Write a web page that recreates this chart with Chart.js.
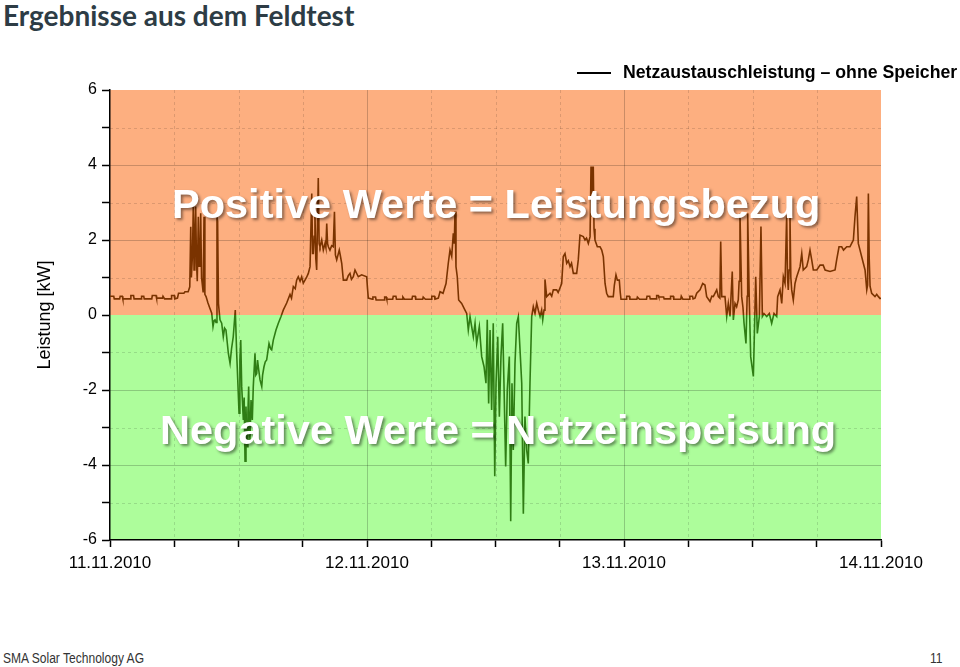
<!DOCTYPE html>
<html>
<head>
<meta charset="utf-8">
<title>Ergebnisse aus dem Feldtest</title>
<script src="https://cdn.jsdelivr.net/npm/chart.js@4.4.1/dist/chart.umd.min.js"></script>
<style>
    body { margin: 0; width: 960px; height: 667px; background: #fff; position: relative; overflow: hidden; font-family: "Liberation Sans", Arial, sans-serif; }
    #title { position: absolute; left: 3px; top: 0; font-family: Lato, "Open Sans", sans-serif; font-weight: 700; font-size: 28px; line-height: 30px; color: #2d3c45; white-space: nowrap; }
    #wrap { position: absolute; left: 0; top: 0; width: 960px; height: 600px; }
    #legend { position: absolute; left: 577px; top: 62px; font-weight: bold; font-size: 17.7px; line-height: 20px; white-space: nowrap; color: #000; }
    #legend .line { display: inline-block; width: 34px; height: 2px; background: #000; vertical-align: middle; margin-right: 12px; }
    .big { position: absolute; color: #fff; font-weight: bold; font-size: 41.5px; line-height: 41px; white-space: nowrap; text-shadow: 2px 2px 3px rgba(0, 0, 0, 0.45); }
    .foot { position: absolute; top: 650px; font-size: 14px; line-height: 16px; color: #333; transform: scaleX(0.86); transform-origin: left top; white-space: nowrap; }
</style>
</head>
<body>
<div id="title">Ergebnisse aus dem Feldtest</div>
<div id="wrap"><canvas id="chart"></canvas></div>
<div id="legend"><span class="line"></span>Netzaustauschleistung – ohne Speicher</div>
<div class="big" style="left:172px; top:183px;">Positive Werte = Leistungsbezug</div>
<div class="big" style="left:160px; top:409px;">Negative Werte = Netzeinspeisung</div>
<div class="foot" style="left:3px;">SMA Solar Technology AG</div>
<div class="foot" style="left:930px;">11</div>

<script>
// time in hours since 11.11.2010 00:00
const hours = [
    0, 0.35, 0.4, 0.9, 0.95, 1.15, 1.2, 1.9, 1.95, 2.2,
    2.25, 2.9, 2.95, 3.15, 3.2, 3.9, 3.95, 4.3, 4.35, 4.9,
    4.95, 5.1, 5.7, 5.75, 6.0, 6.05, 6.3, 6.4, 6.9, 7.0,
    7.3, 7.45, 7.54, 7.6, 7.7, 7.78, 7.85, 7.92, 8.0, 8.08,
    8.15, 8.25, 8.32, 8.4, 8.47, 8.55, 8.7, 8.78, 8.86, 8.97,
    9.15, 9.3, 9.5, 9.62, 9.72, 9.81, 9.9, 9.99, 10.05, 10.13,
    10.27, 10.43, 10.58, 10.7, 10.83, 11.05, 11.21, 11.35, 11.51, 11.7,
    11.83, 11.93, 12.05, 12.13, 12.21, 12.3, 12.45, 12.53, 12.61, 12.7,
    12.76, 12.82, 12.88, 12.95, 13.01, 13.07, 13.17, 13.29, 13.38, 13.54,
    13.62, 13.7, 13.78, 13.85, 14.01, 14.17, 14.25, 14.38, 14.5, 14.63,
    14.85, 15.0, 15.1, 15.25, 15.5, 15.72, 15.97, 16.18, 16.5, 16.81,
    16.95, 17.12, 17.3, 17.43, 17.58, 17.75, 17.9, 18.05, 18.21, 18.35,
    18.52, 18.68, 18.84, 18.92, 18.99, 19.07, 19.14, 19.22, 19.3, 19.45,
    19.53, 19.61, 19.77, 19.92, 20.08, 20.16, 20.24, 20.32, 20.39, 20.54,
    20.7, 20.85, 20.96, 21.05, 21.17, 21.41, 21.5, 21.64, 21.79, 22.1,
    22.25, 22.41, 22.55, 22.72, 22.88, 23.05, 23.19, 23.5, 23.97, 24.05,
    24.12, 24.5, 24.55, 24.8, 24.85, 25.6, 25.65, 25.8, 25.85, 26.4,
    26.45, 26.7, 26.75, 27.3, 27.35, 27.5, 28.2, 28.25, 28.5, 28.55,
    29.2, 29.25, 29.45, 30.0, 30.05, 30.3, 30.35, 30.66, 30.82, 31.1,
    31.38, 31.59, 31.75, 31.91, 32.06, 32.15, 32.22, 32.31, 32.43, 32.56,
    32.84, 33.15, 33.31, 33.46, 33.62, 33.93, 34.09, 34.24, 34.49, 34.71,
    34.93, 35.11, 35.23, 35.36, 35.49, 35.64, 35.79, 35.93, 36.05, 36.21,
    36.36, 36.51, 36.67, 36.79, 36.95, 37.1, 37.29, 37.42, 37.54, 37.66,
    37.82, 37.98, 38.13, 38.29, 38.45, 38.6, 38.75, 38.91, 39.06, 39.22,
    39.38, 39.53, 39.69, 39.85, 40.0, 40.16, 40.31, 40.41, 40.53, 40.62,
    40.78, 41.09, 41.25, 41.4, 41.71, 41.85, 42.02, 42.18, 42.33, 42.49,
    42.65, 42.8, 42.96, 43.1, 43.27, 43.58, 43.73, 43.89, 44.2, 44.36,
    44.5, 44.67, 44.83, 44.92, 45.0, 45.04, 45.13, 45.2, 45.29, 45.51,
    45.76, 45.92, 46.07, 46.23, 46.38, 46.53, 47.0, 47.1, 47.25, 47.38,
    47.56, 47.65, 47.72, 48.2, 48.25, 48.5, 48.55, 49.2, 49.25, 49.45,
    50.1, 50.15, 50.4, 50.45, 51.0, 51.05, 51.2, 51.25, 51.7, 51.75,
    52.3, 52.35, 52.6, 52.65, 53.3, 53.35, 53.5, 54.1, 54.15, 54.4,
    54.45, 54.63, 54.79, 55.1, 55.35, 55.56, 55.72, 56.03, 56.2, 56.34,
    56.66, 56.81, 56.95, 57.03, 57.13, 57.43, 57.59, 57.74, 57.9, 58.11,
    58.21, 58.37, 58.52, 58.67, 58.75, 58.83, 58.99, 59.11, 59.21, 59.39,
    59.5, 59.55, 59.7, 59.83, 60.08, 60.17, 60.3, 60.45, 60.64, 60.79,
    60.92, 61.07, 61.33, 61.57, 61.79, 62.01, 62.26, 62.35, 62.57, 62.73,
    62.88, 63.04, 63.19, 63.27, 63.34, 63.42, 63.5, 63.58, 63.66, 63.81,
    63.97, 64.13, 64.44, 64.6, 64.74, 65.06, 65.21, 65.37, 65.53, 65.68,
    66.0, 66.31, 66.6, 66.78, 67.24, 67.71, 67.86, 68.08, 68.33, 68.5,
    68.8, 69.1, 69.26, 69.42, 69.57, 69.73, 69.88, 70.04, 70.35, 70.51,
    70.67, 70.75, 70.82, 70.9, 70.98, 71.13, 71.44, 71.6, 71.76, 71.91,
    72
];

// Netzaustauschleistung in kW
const kw = [
    0.50, 0.50, 0.43, 0.43, 0.50, 0.50, 0.43, 0.43, 0.52, 0.52,
    0.43, 0.43, 0.50, 0.50, 0.43, 0.43, 0.52, 0.52, 0.45, 0.45,
    0.50, 0.43, 0.43, 0.52, 0.52, 0.43, 0.45, 0.58, 0.58, 0.62,
    0.62, 0.75, 2.35, 1.0, 1.6, 2.93, 1.2, 2.1, 2.89, 1.4,
    0.9, 2.62, 1.3, 1.5, 2.71, 1.0, 0.6, 2.62, 0.55, 0.49,
    0.32, 0.2, 0.05, -0.31, -0.15, -0.13, -0.2, 2.62, 2.5, 0.3,
    -0.13, -0.22, -0.58, -0.35, -0.4, -1.02, -1.29, -0.9, -0.58, 0.13,
    -1.02, -1.73, -2.62, -1.2, -0.67, -1.91, -2.8, -2.2, -3.9, -2.44,
    -3.2, -3.51, -2.6, -1.91, -3.0, -3.33, -2.27, -2.8, -1.91, -1.02,
    -1.6, -1.56, -1.2, -1.38, -1.73, -1.91, -1.6, -1.38, -1.25, -1.2,
    -0.76, -0.9, -0.93, -0.67, -0.4, -0.22, -0.04, 0.13, 0.32, 0.55,
    0.45, 0.76, 0.7, 0.93, 1.02, 0.9, 1.02, 0.85, 0.93, 1.0,
    1.11, 1.29, 3.24, 1.64, 1.64, 2.1, 2.71, 1.5, 1.2, 3.65,
    1.9, 1.82, 2.0, 1.73, 1.91, 1.8, 2.44, 1.9, 1.82, 1.73,
    1.85, 1.82, 2.75, 1.6, 1.47, 1.73, 1.6, 1.38, 0.93, 0.93,
    1.05, 1.11, 0.95, 1.02, 1.2, 1.1, 1.02, 1.07, 1.02, 0.7,
    0.45, 0.42, 0.48, 0.48, 0.40, 0.40, 0.48, 0.48, 0.42, 0.42,
    0.50, 0.50, 0.42, 0.42, 0.48, 0.42, 0.42, 0.50, 0.50, 0.42,
    0.42, 0.48, 0.42, 0.42, 0.50, 0.50, 0.42, 0.45, 0.62, 0.58,
    0.84, 1.38, 1.73, 1.56, 2.18, 1.9, 2.76, 1.29, 1.02, 0.4,
    0.31, 0.13, 0.04, -0.4, -0.04, -0.58, -0.22, -0.76, -0.31, -1.11,
    -1.38, -1.82, -0.13, -2.36, -0.4, -2.53, -0.22, -4.3, -1.82, -0.58,
    -2.71, -1.11, -0.22, -1.82, -4.04, -2.0, -1.11, -5.5, -1.82, -3.6,
    -1.29, -0.22, -0.04, -0.93, -1.82, -5.3, -2.71, -3.6, -3.96, -1.82,
    -0.04, 0.22, 0.04, 0.31, 0.13, -0.04, 0.13, -0.13, 0.13, 0.95,
    0.49, 0.58, 0.5, 0.67, 0.67, 0.6, 0.72, 0.84, 1.56, 1.64,
    1.38, 1.45, 1.29, 1.38, 1.11, 1.11, 1.47, 2.13, 2.09, 2.0,
    2.05, 1.91, 2.09, 3.96, 2.7, 2.62, 3.96, 2.3, 2.0, 1.82,
    1.82, 1.73, 1.56, 0.84, 0.58, 0.49, 0.49, 0.8, 1.07, 0.93,
    0.93, 0.6, 0.42, 0.42, 0.50, 0.50, 0.42, 0.42, 0.48, 0.42,
    0.42, 0.50, 0.50, 0.43, 0.43, 0.52, 0.52, 0.48, 0.48, 0.43,
    0.43, 0.50, 0.50, 0.42, 0.42, 0.50, 0.42, 0.42, 0.50, 0.50,
    0.43, 0.45, 0.58, 0.67, 0.84, 0.8, 0.49, 0.36, 0.5, 0.49,
    0.67, 0.49, 0.45, 1.96, 0.49, 0.49, -0.04, 0.31, -0.04, 1.16,
    -0.13, 0.31, 0.22, 0.4, 0.9, 2.71, 0.49, 0.2, -0.22, -0.76,
    0.5, 2.71, 0.4, -1.11, -1.64, -0.58, 1.02, -0.49, -0.04, 2.36,
    -0.04, 0.04, -0.04, 0.04, -0.22, 0.04, -0.04, 0.49, 0.67, 0.31,
    1.02, 0.84, 2.67, 1.0, 0.67, 1.2, 2.67, 1.0, 0.67, 0.4,
    0.84, 1.02, 1.29, 1.64, 1.2, 1.29, 1.47, 1.73, 1.47, 1.2,
    1.2, 1.33, 1.33, 1.2, 1.16, 1.2, 1.47, 1.82, 1.82, 1.73,
    1.82, 1.82, 1.91, 2.0, 2.62, 3.16, 1.91, 1.73, 1.38, 1.2,
    0.67, 0.8, 3.24, 1.5, 0.76, 0.58, 0.49, 0.55, 0.49, 0.44,
    0.45
];

const dayLabels = ['11.11.2010', '12.11.2010', '13.11.2010', '14.11.2010'];
const yMin = -6;
const yMax = 6;

const lineUp = '#7a3300';
const lineDown = '#2f7d14';
const plusFill = '#fdaf80';
const minusFill = '#adfd9b';
const gridMajor = 'rgba(0, 0, 0, 0.2)';
const gridMinor = 'rgba(0, 0, 0, 0.13)';

// orange above 0, green below, plus solid/dashed grid
const backdrop = {
    id: 'backdrop',
    beforeDraw(chart) {
        const { ctx, chartArea: a, scales } = chart;
        const zero = scales.y.getPixelForValue(0);
        ctx.save();
        ctx.fillStyle = plusFill;
        ctx.fillRect(a.left, a.top, a.right - a.left, zero - a.top);
        ctx.fillStyle = minusFill;
        ctx.fillRect(a.left, zero, a.right - a.left, a.bottom - zero);
        ctx.restore();
    },
    beforeDatasetsDraw(chart) {
        const { ctx, chartArea: a, scales } = chart;
        ctx.save();
        ctx.lineWidth = 1;
        scales.x.ticks.forEach(function (t) {
            if (t.value <= 0 || t.value >= 72) return;
            const px = Math.round(scales.x.getPixelForValue(t.value)) + 0.5;
            const major = t.value % 24 === 0;
            ctx.setLineDash(major ? [] : [3, 3]);
            ctx.strokeStyle = major ? gridMajor : gridMinor;
            ctx.beginPath();
            ctx.moveTo(px, a.top);
            ctx.lineTo(px, a.bottom);
            ctx.stroke();
        });
        scales.y.ticks.forEach(function (t) {
            if (t.value <= yMin || t.value >= yMax || t.value === 0) return;
            const py = Math.round(scales.y.getPixelForValue(t.value)) + 0.5;
            const major = t.value % 2 === 0;
            ctx.setLineDash(major ? [] : [3, 3]);
            ctx.strokeStyle = major ? gridMajor : gridMinor;
            ctx.beginPath();
            ctx.moveTo(a.left, py);
            ctx.lineTo(a.right, py);
            ctx.stroke();
        });
        ctx.restore();
    }
};

function splitColor(context) {
    const chart = context.chart;
    const a = chart.chartArea;
    if (!a) return lineUp;
    const zero = chart.scales.y.getPixelForValue(0);
    const f = Math.min(1, Math.max(0, (zero - a.top) / (a.bottom - a.top)));
    const g = chart.ctx.createLinearGradient(0, a.top, 0, a.bottom);
    g.addColorStop(0, lineUp);
    g.addColorStop(f, lineUp);
    g.addColorStop(f, lineDown);
    g.addColorStop(1, lineDown);
    return g;
}

const points = hours.map(function (h, i) { return { x: h, y: kw[i] }; });

new Chart(document.getElementById('chart'), {
    type: 'line',
    data: {
        datasets: [{
            label: 'Netzaustauschleistung – ohne Speicher',
            data: points,
            borderColor: splitColor,
            borderWidth: 1.6,
            pointRadius: 0,
            tension: 0,
            fill: false
        }]
    },
    options: {
        responsive: true,
        maintainAspectRatio: false,
        animation: false,
        layout: { padding: { left: 30, right: 79, top: 90, bottom: 20 } },
        plugins: {
            legend: { display: false },
            tooltip: { enabled: false }
        },
        scales: {
            x: {
                type: 'linear',
                min: 0,
                max: 72,
                afterFit: function (scale) { scale.height = 40; },
                grid: { drawOnChartArea: false, drawTicks: true, tickLength: 7, tickColor: '#000', tickWidth: 1.5 },
                border: { display: true, color: '#000', width: 1.5 },
                ticks: {
                    stepSize: 6,
                    autoSkip: false,
                    maxRotation: 0,
                    padding: 6,
                    color: '#000',
                    font: { family: '"Liberation Sans", Arial, sans-serif', size: 17 },
                    callback: function (v) { return v % 24 === 0 ? dayLabels[v / 24] : ''; }
                }
            },
            y: {
                min: yMin,
                max: yMax,
                afterFit: function (scale) { scale.width = 80; },
                grid: { drawOnChartArea: false, drawTicks: true, tickLength: 8, tickColor: '#000', tickWidth: 1.5 },
                border: { display: true, color: '#000', width: 1.5 },
                title: {
                    display: true,
                    text: 'Leistung [kW]',
                    color: '#000',
                    font: { family: '"Liberation Sans", Arial, sans-serif', size: 18 }
                },
                ticks: {
                    stepSize: 1,
                    padding: 5,
                    color: '#000',
                    font: { family: '"Liberation Sans", Arial, sans-serif', size: 16 },
                    callback: function (v) { return v % 2 === 0 ? String(v) : ''; }
                }
            }
        }
    },
    plugins: [backdrop]
});
</script>
</body>
</html>
